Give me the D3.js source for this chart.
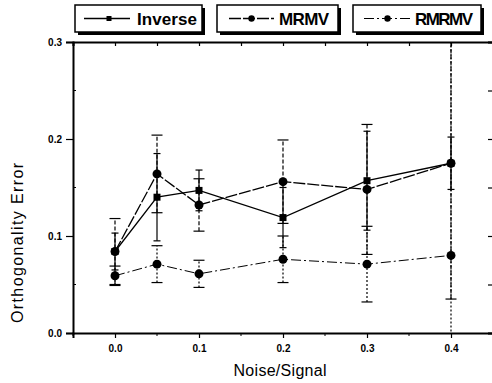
<!DOCTYPE html>
<html lang="en">
  <head>
    <meta charset="UTF-8" />
    <title>Orthogonality Error vs Noise/Signal</title>
    <script src="https://d3js.org/d3.v7.min.js"></script>
    <style>
      body { margin: 0; background: #fff; }
      .tick text { font: bold 10px "Liberation Sans", Arial, sans-serif; fill: #000; }
      .axis-label { font: 16px "Liberation Sans", Arial, sans-serif; fill: #000; }
      .legend-text { font: bold 17px "Liberation Sans", Arial, sans-serif; fill: #000; }
    </style>
  </head>
  <body>
    <svg id="chart" width="492" height="383"></svg>
    <script>
      // data
      const noise = [0, 0.05, 0.1, 0.2, 0.3, 0.4];
      const inverse = [0.084, 0.140, 0.147, 0.119, 0.157, 0.175];
      const inverseErr = [0.019, 0.045, 0.021, 0.031, 0.051, 0.027];
      const mrmv = [0.084, 0.164, 0.132, 0.156, 0.148, 0.175];
      const mrmvErr = [0.034, 0.040, 0.027, 0.043, 0.067, 0.14];
      const rmrmv = [0.059, 0.071, 0.061, 0.076, 0.071, 0.080];
      const rmrmvErr = [0.010, 0.019, 0.014, 0.024, 0.039, 0.40];
      const seriesNames = ["Inverse", "MRMV", "RMRMV"];
      const yTicks = [0, 0.1, 0.2, 0.3];
      const xTicks = [0, 0.1, 0.2, 0.3, 0.4];

      const width = 492;
      const height = 383;
      const margin = { top: 42, right: -1, bottom: 50, left: 73 };

      const svg = d3.select("#chart");

      const x = d3.scaleLinear().domain([-0.05, 0.45]).range([margin.left, width - margin.right]);
      const y = d3.scaleLinear().domain([0, 0.3]).range([height - margin.bottom, margin.top]);

      const series = [
        { name: seriesNames[0], vals: inverse, err: inverseErr, marker: "square", dash: null, errDash: null, cap: 7 },
        { name: seriesNames[1], vals: mrmv, err: mrmvErr, marker: "circle", dash: "12,2", errDash: "4,2", cap: 11 },
        { name: seriesNames[2], vals: rmrmv, err: rmrmvErr, marker: "circle", dash: "10,3,2,3", errDash: "2,2", cap: 11 },
      ];

      svg.append("clipPath").attr("id", "plot-clip")
        .append("rect")
        .attr("x", x.range()[0]).attr("y", y.range()[1])
        .attr("width", x.range()[1] - x.range()[0])
        .attr("height", y.range()[0] - y.range()[1]);

      // minor ticks
      const xMinor = d3.range(-0.05, 0.451, 0.05).map(v => +v.toFixed(2));
      const yMinor = d3.range(0, 0.301, 0.05).map(v => +v.toFixed(2));

      // bottom axis
      const bottomAxis = svg.append("g")
        .attr("transform", `translate(0,${y(0)})`)
        .call(d3.axisBottom(x).tickValues(xTicks).tickFormat(d3.format(".1f")).tickSizeOuter(0).tickSize(5).tickPadding(7));
      bottomAxis.append("g").selectAll("line").data(xMinor.filter(v => !xTicks.includes(v)))
        .join("line").attr("x1", d => x(d)).attr("x2", d => x(d)).attr("y1", 0).attr("y2", 3).attr("stroke", "#000");

      // left axis
      const leftAxis = svg.append("g")
        .attr("transform", `translate(${x(-0.05)},0)`)
        .call(d3.axisLeft(y).tickValues(yTicks).tickFormat(d3.format(".1f")).tickSizeOuter(0).tickSize(7).tickPadding(4));
      leftAxis.append("g").selectAll("line").data(yMinor.filter(v => !yTicks.includes(v)))
        .join("line").attr("y1", d => y(d)).attr("y2", d => y(d)).attr("x1", 0).attr("x2", 3).attr("stroke", "#000");

      // top axis (inward ticks, no labels)
      const topAxis = svg.append("g")
        .attr("transform", `translate(0,${y(0.3)})`)
        .call(d3.axisBottom(x).tickValues(xMinor).tickFormat("").tickSizeOuter(0).tickSize(4));

      // right axis (inward ticks, no labels)
      const rightAxis = svg.append("g")
        .attr("transform", `translate(${x(0.45)},0)`)
        .call(d3.axisRight(y).tickValues(yMinor).tickFormat("").tickSizeOuter(0).tickSize(-5));

      [bottomAxis, leftAxis, topAxis, rightAxis].forEach(g => {
        g.select(".domain").attr("stroke", "#000").attr("stroke-width", 2);
        g.selectAll(".tick line").attr("stroke", "#000").attr("stroke-width", 1.2);
      });

      // axis titles
      svg.append("text").attr("class", "axis-label")
        .attr("x", (x(-0.05) + x(0.45)) / 2 - 3).attr("y", 376)
        .attr("text-anchor", "middle").attr("textLength", 93)
        .text("Noise/Signal");
      svg.append("text").attr("class", "axis-label")
        .attr("transform", "translate(23,243) rotate(-90)")
        .attr("text-anchor", "middle").attr("textLength", 160)
        .text("Orthogonality Error");

      const plot = svg.append("g").attr("clip-path", "url(#plot-clip)");

      // error bars
      series.forEach(s => {
        const g = plot.append("g");
        noise.forEach((n, i) => {
          const lo = s.vals[i] - s.err[i];
          const hi = s.vals[i] + s.err[i];
          g.append("line")
            .attr("x1", x(n)).attr("x2", x(n)).attr("y1", y(lo)).attr("y2", y(hi))
            .attr("stroke", "#000").attr("stroke-width", 1.2)
            .attr("stroke-dasharray", s.errDash);
          [lo, hi].forEach(v => {
            g.append("line")
              .attr("x1", x(n) - s.cap / 2).attr("x2", x(n) + s.cap / 2)
              .attr("y1", y(v)).attr("y2", y(v))
              .attr("stroke", "#000").attr("stroke-width", 1.2);
          });
        });
      });

      // lines
      const line = d3.line().x((d, i) => x(noise[i])).y(d => y(d));
      series.forEach(s => {
        plot.append("path").datum(s.vals)
          .attr("d", line)
          .attr("fill", "none").attr("stroke", "#000")
          .attr("stroke-width", s.name === "RMRMV" ? 1 : 1.3)
          .attr("stroke-dasharray", s.dash);
      });

      // markers
      function drawMarker(g, type, cx, cy, size) {
        if (type === "square") {
          g.append("rect").attr("x", cx - size / 2).attr("y", cy - size / 2).attr("width", size).attr("height", size).attr("fill", "#000");
        } else {
          g.append("circle").attr("cx", cx).attr("cy", cy).attr("r", size * 0.64).attr("fill", "#000");
        }
      }
      series.forEach(s => {
        const g = plot.append("g");
        s.vals.forEach((v, i) => drawMarker(g, s.marker, x(noise[i]), y(v), 7));
      });

      // legend boxes
      const legendBoxes = [
        { x0: 75, x1: 202, l0: 84, l1: 130, tx: 137, tw: 60 },
        { x0: 217, x1: 338, l0: 229, l1: 274, tx: 279, tw: 50 },
        { x0: 353, x1: 481, l0: 364, l1: 411, tx: 415, tw: 58 },
      ];
      series.forEach((s, i) => {
        const b = legendBoxes[i];
        const g = svg.append("g");
        g.append("rect").attr("x", b.x0 + 3).attr("y", 8).attr("width", b.x1 - b.x0).attr("height", 27).attr("fill", "#000");
        g.append("rect").attr("x", b.x0).attr("y", 5).attr("width", b.x1 - b.x0).attr("height", 27)
          .attr("fill", "#fff").attr("stroke", "#000").attr("stroke-width", 1.5);
        g.append("line").attr("x1", b.l0).attr("x2", b.l1).attr("y1", 18.5).attr("y2", 18.5)
          .attr("stroke", "#000").attr("stroke-width", s.name === "RMRMV" ? 1 : 1.3)
          .attr("stroke-dasharray", s.dash);
        drawMarker(g, s.marker, (b.l0 + b.l1) / 2 + (s.marker === "square" ? 2 : 0), 18.5, 5);
        g.append("text").attr("class", "legend-text").attr("x", b.tx).attr("y", 25)
          .attr("textLength", b.tw).text(s.name);
      });
    </script>
  </body>
</html>
